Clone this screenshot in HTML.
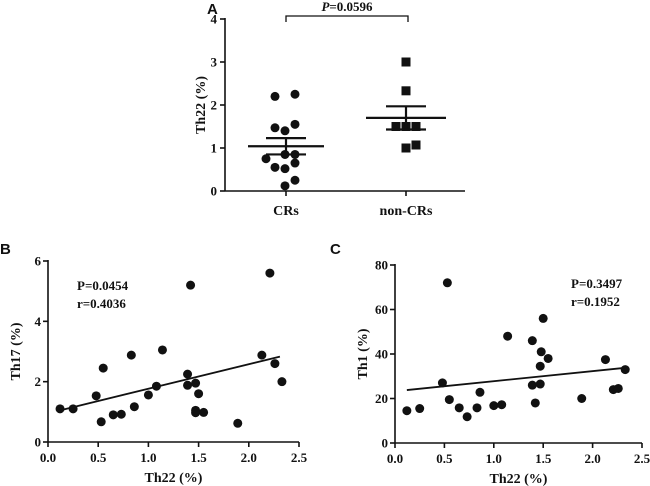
<!DOCTYPE html>
<html><head><meta charset="utf-8"><style>
body{margin:0;background:#fff}
svg{display:block}
text{font-family:"Liberation Serif",serif;font-weight:bold;fill:#111}
.pl{font-family:"Liberation Sans",sans-serif;font-size:15px}
</style></head><body>
<svg id="s" width="650" height="486" viewBox="0 0 650 486">
<text class="pl" x="207" y="14">A</text>
<text class="pl" x="0" y="254">B</text>
<text class="pl" x="330" y="254">C</text>
<g id="ga"></g>
<g id="gb"></g>
<g id="gc"></g>
</svg>
<script>
const aCats=["CRs","non-CRs"];
const aCR=[2.2,2.25,1.47,1.4,1.55,0.85,0.85,0.75,0.55,0.52,0.65,0.12,0.25];
const aCRoff=[-11,9,-11,-1,9,-1,9,-20,-11,-1,9,-1,9];
const aNon=[3.0,2.33,1.5,1.5,1.5,1.0,1.07];
const aNonOff=[0,0,-10,0,10,0,10];
const aMean=[1.04,1.7];
const aSem=[0.19,0.27];
const aTicks=[0,1,2,3,4];
const aP="P=0.0596";
const bx=[0.12,0.25,0.48,0.53,0.55,0.65,0.73,0.83,0.86,1.0,1.08,1.14,1.39,1.39,1.42,1.47,1.47,1.47,1.5,1.55,1.89,2.13,2.21,2.26,2.33];
const by=[1.1,1.1,1.53,0.67,2.45,0.9,0.92,2.88,1.17,1.56,1.85,3.05,2.25,1.88,5.2,1.95,1.05,0.97,1.6,0.98,0.62,2.88,5.6,2.6,2.0];
const bLine=[0.12,1.05,2.31,2.83];
const cx=[0.12,0.25,0.48,0.53,0.55,0.65,0.73,0.83,0.86,1.0,1.08,1.14,1.39,1.39,1.42,1.47,1.47,1.48,1.5,1.55,1.89,2.13,2.21,2.26,2.33];
const cy=[14.5,15.5,27,72,19.5,15.8,11.8,15.8,22.8,16.8,17.2,48,46,26,18,34.5,26.5,41,56,38,20,37.5,24,24.5,33];
const cLine=[0.12,23.8,2.33,33.8];
const xTicks=[0.0,0.5,1.0,1.5,2.0,2.5];
const bTicks=[0,2,4,6];
const cTicks=[0,20,40,60,80];
const NS="http://www.w3.org/2000/svg";
function mk(p,t,a,txt){const e=document.createElementNS(NS,t);for(const k in a)e.setAttribute(k,a[k]);if(txt!==undefined)e.textContent=txt;p.appendChild(e);return e;}
function ln(p,x1,y1,x2,y2,w){return mk(p,"line",{x1:x1,y1:y1,x2:x2,y2:y2,stroke:"#111","stroke-width":w||1.6});}
// Panel A
const ga=document.getElementById("ga");
const aY=v=>191-v*43;const aX=[286,406];
let e=ln(ga,225,18,225,191);
e=ln(ga,225,191,465,191);
aTicks.forEach(t=>{ln(ga,220,aY(t),225,aY(t));const l=mk(ga,"text",{x:217,y:aY(t)+4.5,"text-anchor":"end","font-size":13},t);
});
aCats.forEach((c,i)=>{ln(ga,aX[i],191,aX[i],196);const l=mk(ga,"text",{x:aX[i],y:215,"text-anchor":"middle","font-size":14},c);
});
e=mk(ga,"text",{transform:"translate(205,105) rotate(-90)","text-anchor":"middle","font-size":14},"Th22 (%)");

aCR.forEach((v,i)=>{const d=mk(ga,"circle",{cx:aX[0]+aCRoff[i],cy:aY(v),r:4.5,fill:"#111"});
});
aNon.forEach((v,i)=>{const d=mk(ga,"rect",{x:aX[1]+aNonOff[i]-4.5,y:aY(v)-4.5,width:9,height:9,fill:"#111"});
});
[[38,20],[40,20]].forEach((w,i)=>{const m=aMean[i],s=aSem[i],x=aX[i];
let l=ln(ga,x-w[0],aY(m),x+w[0],aY(m),2.2);
l=ln(ga,x,aY(m-s),x,aY(m+s),2.2);
ln(ga,x-w[1],aY(m-s),x+w[1],aY(m-s),2.2);ln(ga,x-w[1],aY(m+s),x+w[1],aY(m+s),2.2);});
e=mk(ga,"path",{d:"M286 22 V16 H408 V22",fill:"none",stroke:"#111","stroke-width":1.3});

e=mk(ga,"text",{x:347,y:11,"text-anchor":"middle","font-size":13},"");
mk(e,"tspan",{"font-style":"italic"},"P");mk(e,"tspan",{},aP.slice(1));

// scatter panels
function scatter(g,x0,x1,y0,y1,ymax,ticks,xs,ys,line,ylab,ann,ax,ayy){
 const X=v=>x0+(x1-x0)*v/2.5, Y=v=>y0-(y0-y1)*v/ymax;
 let e=ln(g,x0,y1-1,x0,y0);
 e=ln(g,x0,y0,x1,y0);
 ticks.forEach(t=>{ln(g,x0-5,Y(t),x0,Y(t));const l=mk(g,"text",{x:x0-7,y:Y(t)+4.5,"text-anchor":"end","font-size":13},t);
  });
 xTicks.forEach(t=>{ln(g,X(t),y0,X(t),y0+5);const l=mk(g,"text",{x:X(t),y:y0+20,"text-anchor":"middle","font-size":13},t.toFixed(1));
  });
 e=mk(g,"text",{x:(x0+x1)/2,y:y0+40,"text-anchor":"middle","font-size":14},"Th22 (%)");
 
 e=mk(g,"text",{transform:`translate(${x0-28},${(y0+y1)/2}) rotate(-90)`,"text-anchor":"middle","font-size":14},ylab);
 
 xs.forEach((v,i)=>{const d=mk(g,"circle",{cx:X(v),cy:Y(ys[i]),r:4.5,fill:"#111"});
  });
 e=ln(g,X(line[0]),Y(line[1]),X(line[2]),Y(line[3]),1.8);
 
 ann.forEach((a,i)=>{const l=mk(g,"text",{x:ax,y:ayy+i*18,"font-size":13},a);
  });
}
scatter(document.getElementById("gb"),48,299,442,261,6,bTicks,bx,by,bLine,"Th17 (%)",["P=0.0454","r=0.4036"],77,290);
scatter(document.getElementById("gc"),395,642,443,265,80,cTicks,cx,cy,cLine,"Th1 (%)",["P=0.3497","r=0.1952"],571,288);
</script>
</body></html>
